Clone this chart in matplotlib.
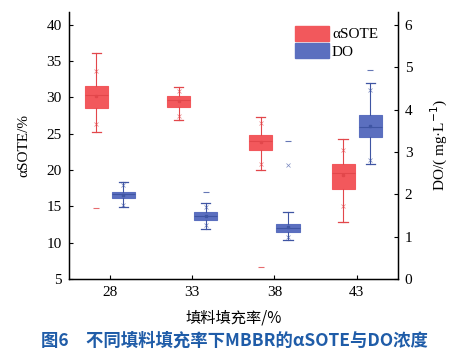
import matplotlib
matplotlib.use('Agg')
import matplotlib.pyplot as plt
from matplotlib.patches import Patch

# filling rates (%)
rates = ['28', '33', '38', '43']

# aSOTE box stats (%)
sote_whislo = [25.3, 26.9, 20.0, 12.9]
sote_q1 = [28.6, 28.7, 22.8, 17.4]
sote_med = [30.4, 29.7, 24.0, 19.6]
sote_q3 = [31.6, 30.2, 24.8, 20.8]
sote_whishi = [36.1, 31.4, 27.3, 24.3]
sote_mean = [30.2, 29.5, 23.8, 19.3]
sote_p_lo = [26.3, 27.5, 20.8, 15.0]
sote_p_hi = [33.6, 30.9, 26.5, 22.8]
sote_min = [14.8, 26.9, 6.7, 12.9]

# DO box stats (mg/L)
do_whislo = [1.69, 1.17, 0.92, 2.72]
do_q1 = [1.92, 1.39, 1.12, 3.36]
do_med = [2.00, 1.49, 1.21, 3.59]
do_q3 = [2.06, 1.57, 1.29, 3.88]
do_whishi = [2.30, 1.79, 1.57, 4.63]
do_mean = [1.99, 1.48, 1.22, 3.62]
do_p_lo = [1.75, 1.28, 0.98, 2.81]
do_p_hi = [2.22, 1.70, 2.70, 4.47]
do_max = [2.30, 2.05, 3.25, 4.94]

red = '#f2585c'
red_e = '#e2474b'
blue = '#5b6fbf'
blue_e = '#3f55a3'

plt.rcParams['font.family'] = ['Liberation Serif', 'Noto Sans CJK SC']
plt.rcParams['font.size'] = 11

fig = plt.figure(figsize=(4.68, 3.59), dpi=100)
ax = fig.add_axes([0.147, 0.223, 0.703, 0.744])
ax2 = ax.twinx()

pos = [1, 2, 3, 4]
off = 0.165
w = 0.28


def draw(a, p, lo, q1, med, q3, hi, mean, plo, phi, extra, fc, ec):
    stats = []
    for i in range(4):
        stats.append(dict(whislo=lo[i], q1=q1[i], med=med[i], q3=q3[i],
                          whishi=hi[i], mean=mean[i], fliers=[]))
    a.bxp(stats, positions=p, widths=w, patch_artist=True, showmeans=True,
          boxprops=dict(facecolor=fc, edgecolor=fc, linewidth=0.8),
          medianprops=dict(color=ec, linewidth=0.8),
          whiskerprops=dict(color=ec, linewidth=0.8),
          capprops=dict(color=ec, linewidth=0.9),
          meanprops=dict(marker='s', markersize=2, markerfacecolor=ec,
                         markeredgecolor=ec), capwidths=w * 0.4)
    a.plot(p, plo, 'x', color=ec, ms=3, mew=0.5, alpha=0.7)
    a.plot(p, phi, 'x', color=ec, ms=3, mew=0.5, alpha=0.7)
    a.plot(p, extra, '_', color=ec, ms=4, mew=0.8, alpha=0.8)


draw(ax, [x - off for x in pos], sote_whislo, sote_q1, sote_med, sote_q3,
     sote_whishi, sote_mean, sote_p_lo, sote_p_hi, sote_min, red, red_e)
draw(ax2, [x + off for x in pos], do_whislo, do_q1, do_med, do_q3,
     do_whishi, do_mean, do_p_lo, do_p_hi, do_max, blue, blue_e)

ax.set_xlim(0.5, 4.5)
ax.set_ylim(5, 41.8)
ax2.set_ylim(0, 6.31)
ax.set_yticks([5, 10, 15, 20, 25, 30, 35, 40])
ax2.set_yticks([0, 1, 2, 3, 4, 5, 6])
ax.set_xticks(pos)
ax.set_xticklabels(rates)
for a in (ax, ax2):
    a.spines['top'].set_visible(False)
    a.tick_params(direction='in', length=3, width=0.8, pad=5)
ax.spines['left'].set_linewidth(1.0)
ax2.spines['right'].set_linewidth(1.0)
ax.spines['bottom'].set_linewidth(1.0)

ax.set_ylabel('αSOTE/%', fontsize=11, labelpad=12)
ax2.set_ylabel('DO/( mg·L$^{-1}$)', fontsize=11, rotation=90, labelpad=12)
ax.set_xlabel('填料填充率/%', fontsize=11, labelpad=8,
              family=['Noto Sans CJK SC'])

handles = [Patch(facecolor=red, edgecolor=red), Patch(facecolor=blue, edgecolor=blue)]
ax2.legend(handles, ['αSOTE', 'DO'], loc='upper left', bbox_to_anchor=(0.67, 0.97),
           frameon=False, handlelength=2.2, handleheight=1.1, handletextpad=0.2,
           labelspacing=0.1, borderaxespad=0, fontsize=11)

fig.text(0.5, 0.05, '图6　不同填料填充率下MBBR的αSOTE与DO浓度', ha='center',
         va='center', color='#1f5ca8', fontsize=12.5, fontweight='bold',
         family=['Noto Sans CJK SC'])

fig.savefig('out.png', dpi=100)
